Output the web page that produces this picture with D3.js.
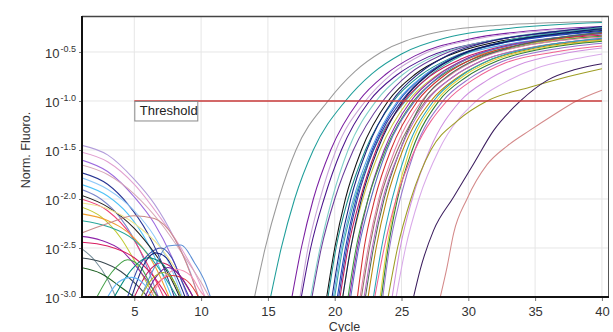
<!DOCTYPE html>
<html lang="en">
<head>
<meta charset="UTF-8">
<title>Amplification plot</title>
<style>
    body { margin: 0; background: #fff; }
    text { font-family: "Liberation Sans", Arial, sans-serif; fill: #333; }
    .grid line { stroke: #e6e6e6; stroke-width: 1; }
    .curve { fill: none; stroke-width: 1.05; }
</style>
</head>
<body>
<div id="chart"></div>
<script src="https://d3js.org/d3.v7.min.js"></script>
<script>
// axis ticks
const xTicks = [5, 10, 15, 20, 25, 30, 35, 40];
const yTickExps = [-3.0, -2.5, -2.0, -1.5, -1.0, -0.5];
const yTopExp = -0.133;
const thresholdExp = -1.0;
const thresholdCycles = [5, 40];

// amplification curves: [cycle, log10 norm. fluoro]
const ampCurves = [
    [[14.0,-3],[14.8,-2.5],[15.8,-2],[17.1,-1.5],[19.5,-1],[21.5,-0.7],[23.5,-0.5],[27,-0.32],[32,-0.23],[40,-0.19]],
    [[15.2,-3],[16.0,-2.5],[17.0,-2],[18.4,-1.5],[20.8,-1],[22.8,-0.72],[25,-0.52],[28.5,-0.35],[33,-0.26],[40,-0.2]],
    [[16.8,-3],[17.5,-2.5],[18.4,-2],[19.7,-1.5],[21.8,-1],[23.8,-0.73],[26,-0.54],[30,-0.37],[35,-0.28],[40,-0.24]],
    [[17.4,-3],[18.0,-2.5],[18.9,-2],[20.1,-1.5],[22.3,-1],[24.3,-0.72],[26.5,-0.53],[30.5,-0.37],[35,-0.29],[40,-0.25]],
    [[17.5,-3],[18.2,-2.5],[19.2,-2],[20.5,-1.5],[22.6,-1],[24.6,-0.74],[27,-0.55],[31,-0.4],[35,-0.32],[40,-0.27]],
    [[18.2,-3],[18.9,-2.5],[19.8,-2],[21.0,-1.5],[23.1,-1],[25.1,-0.73],[27.5,-0.54],[31,-0.4],[35,-0.31],[40,-0.25]],
    [[18.3,-3],[19.0,-2.5],[20.0,-2],[21.4,-1.5],[23.6,-1],[25.6,-0.72],[28,-0.53],[32,-0.38],[36,-0.3],[40,-0.25]],
    [[19.4,-3],[20.0,-2.5],[20.8,-2],[22.0,-1.5],[24.0,-1],[26,-0.73],[28.3,-0.55],[32,-0.4],[36,-0.33],[40,-0.28]],
    [[19.5,-3],[20.1,-2.5],[21.0,-2],[22.3,-1.5],[24.4,-1],[26.4,-0.74],[28.7,-0.56],[32.5,-0.41],[36,-0.33],[40,-0.27]],
    [[19.8,-3],[20.4,-2.5],[21.2,-2],[22.4,-1.5],[24.3,-1],[26.3,-0.72],[28.5,-0.53],[32,-0.38],[36,-0.3],[40,-0.24]],
    [[20.2,-3],[20.8,-2.5],[21.6,-2],[22.8,-1.5],[24.8,-1],[26.8,-0.73],[29,-0.55],[32.5,-0.41],[36,-0.34],[40,-0.29]],
    [[19.9,-3],[20.5,-2.5],[21.4,-2],[22.7,-1.5],[24.7,-1],[26.7,-0.74],[29,-0.56],[33,-0.42],[37,-0.35],[40,-0.32]],
    [[20.0,-3],[20.6,-2.5],[21.5,-2],[22.9,-1.5],[25.3,-1],[27.3,-0.72],[29.6,-0.53],[33,-0.38],[37,-0.3],[40,-0.25]],
    [[20.4,-3],[21.0,-2.5],[21.9,-2],[23.1,-1.5],[25.2,-1],[27.2,-0.74],[29.5,-0.57],[33,-0.43],[37,-0.36],[40,-0.33]],
    [[20.6,-3],[21.2,-2.5],[22.1,-2],[23.4,-1.5],[25.5,-1],[27.5,-0.75],[29.8,-0.58],[33.5,-0.44],[37,-0.37],[40,-0.34]],
    [[20.3,-3],[20.9,-2.5],[21.7,-2],[22.9,-1.5],[25.0,-1],[27,-0.72],[29.3,-0.53],[33,-0.39],[37,-0.31],[40,-0.27]],
    [[20.6,-3],[21.2,-2.5],[22.0,-2],[23.2,-1.5],[25.1,-1],[27.1,-0.72],[29.4,-0.53],[33,-0.39],[37,-0.31],[40,-0.26]],
    [[21.1,-3],[21.7,-2.5],[22.5,-2],[23.7,-1.5],[25.7,-1],[27.7,-0.74],[30,-0.56],[33.5,-0.42],[37,-0.35],[40,-0.31]],
    [[21.0,-3],[21.6,-2.5],[22.5,-2],[23.8,-1.5],[25.9,-1],[27.9,-0.75],[30.2,-0.58],[34,-0.44],[37.5,-0.37],[40,-0.34]],
    [[21.7,-3],[22.2,-2.5],[23.0,-2],[24.2,-1.5],[26.2,-1],[28.2,-0.74],[30.5,-0.56],[34,-0.42],[37.5,-0.35],[40,-0.31]],
    [[21.9,-3],[22.5,-2.5],[23.3,-2],[24.5,-1.5],[26.5,-1],[28.5,-0.75],[30.8,-0.57],[34.5,-0.43],[38,-0.37],[40,-0.35]],
    [[21.2,-3],[21.8,-2.5],[22.7,-2],[23.9,-1.5],[26.0,-1],[28,-0.73],[30.3,-0.55],[34,-0.41],[37.5,-0.34],[40,-0.3]],
    [[22.0,-3],[22.6,-2.5],[23.4,-2],[24.7,-1.5],[26.8,-1],[28.8,-0.76],[31,-0.59],[34.5,-0.46],[38,-0.39],[40,-0.37]],
    [[22.3,-3],[22.9,-2.5],[23.7,-2],[24.9,-1.5],[26.6,-1],[28.6,-0.73],[31,-0.55],[34.5,-0.41],[40,-0.3]],
    [[22.2,-3],[22.8,-2.5],[23.6,-2],[24.9,-1.5],[26.9,-1],[28.9,-0.75],[31.2,-0.58],[35,-0.45],[40,-0.36]],
    [[22.5,-3],[23.1,-2.5],[23.9,-2],[25.1,-1.5],[27.2,-1],[29.2,-0.76],[31.5,-0.59],[35,-0.46],[40,-0.38]],
    [[22.9,-3],[23.5,-2.5],[24.3,-2],[25.4,-1.5],[27.4,-1],[29.4,-0.75],[31.8,-0.57],[35.5,-0.44],[40,-0.36]],
    [[23.4,-3],[23.9,-2.5],[24.6,-2],[25.6,-1.5],[27.6,-1],[29.6,-0.75],[32,-0.58],[35.5,-0.46],[40,-0.38]],
    [[23.5,-3],[24.0,-2.5],[24.7,-2],[25.8,-1.5],[27.8,-1],[29.8,-0.76],[32.2,-0.59],[35.5,-0.47],[40,-0.39]],
    [[23.6,-3],[24.1,-2.5],[24.9,-2],[26.0,-1.5],[28.1,-1],[30.1,-0.77],[32.5,-0.6],[36,-0.48],[40,-0.41]],
    [[23.0,-3],[23.7,-2.5],[24.6,-2],[26.0,-1.5],[28.4,-1],[30.4,-0.78],[32.8,-0.61],[36.5,-0.5],[40,-0.44]],
    [[24.3,-3],[24.9,-2.5],[25.8,-2],[27.1,-1.5],[29.4,-1],[31.4,-0.79],[33.8,-0.63],[37,-0.52],[40,-0.46]],
    [[24.6,-3],[25.3,-2.5],[26.3,-2],[27.8,-1.5],[30.6,-1],[32.6,-0.82],[35,-0.67],[38,-0.57],[40,-0.52]],
    [[24.0,-3],[24.7,-2.5],[25.7,-2],[27.2,-1.5],[29.2,-1.2],[31.4,-1.0],[34.6,-0.86],[37.5,-0.75],[40,-0.67]],
    [[25.9,-3],[26.4,-2.72],[27.4,-2.32],[28.9,-1.98],[30.4,-1.64],[31.9,-1.3],[33.9,-1],[35.9,-0.79],[38,-0.68],[40,-0.62]],
    [[27.9,-3],[28.4,-2.7],[28.9,-2.35],[29.9,-2.0],[31.4,-1.65],[32.9,-1.46],[34.6,-1.3],[36.4,-1.14],[38.1,-1],[40,-0.89]]
];
const ampColors = [
    "#9a9a9a", "#1f9e9a", "#7b1fa2", "#c9a6d8", "#4a148c", "#7fcfc8", "#6a3d9a",
    "#111111", "#168f8a", "#1a237e", "#1f3fbf", "#5aa9e6", "#3aa6a0", "#c2185b",
    "#c6c43a", "#303f9f", "#0d1b5e", "#8e24aa", "#3c9a40", "#d32f2f", "#e57fa8",
    "#5c6bc0", "#8d6e63", "#4e6e58", "#ba68c8", "#b8860b", "#26a6b8", "#e3d43a",
    "#2e7d32", "#9575cd", "#f06292", "#cf8fe0", "#d9a9e9", "#9e9d24", "#3b1d5e",
    "#d48a8a"
];

// early-cycle baseline curves
const earlyCurves = [
    [[1,-1.45],[3,-1.55],[5,-1.8],[6.5,-2.05],[8,-2.4],[9.2,-2.75],[9.8,-3]],
    [[1,-1.52],[3,-1.62],[5,-1.85],[7,-2.2],[8.5,-2.5],[9.7,-2.8],[10.3,-3]],
    [[1,-1.6],[3,-1.72],[5,-1.98],[6.5,-2.25],[8,-2.65],[9.0,-3]],
    [[1,-1.65],[3,-1.75],[5,-1.95],[7,-2.25],[8.8,-2.6],[10,-2.85],[10.6,-3]],
    [[1,-1.73],[3,-1.85],[4.5,-2.05],[6,-2.35],[7.2,-2.7],[8,-3]],
    [[1,-1.78],[3,-1.9],[5,-2.12],[6.5,-2.38],[7.8,-2.72],[8.6,-3]],
    [[1,-1.85],[3,-1.97],[4.5,-2.15],[6,-2.45],[7.2,-2.8],[7.8,-3]],
    [[1,-1.9],[2.5,-2.0],[4,-2.2],[5.5,-2.55],[6.8,-3]],
    [[1,-1.96],[3,-2.08],[5,-2.3],[6.5,-2.55],[7.7,-2.8],[8.4,-3]],
    [[1,-2.0],[3,-2.12],[4.8,-2.38],[6.3,-2.75],[7.2,-3]],
    [[1,-2.04],[3,-2.1],[5,-2.25],[7,-2.5],[8.5,-2.8],[9.4,-3]],
    [[1,-2.08],[2.5,-2.18],[4,-2.4],[5.5,-2.75],[6.5,-3]],
    [[1,-2.15],[3,-2.22],[5,-2.4],[6.6,-2.7],[7.6,-3]],
    [[1,-2.22],[3,-2.28],[5,-2.42],[6.8,-2.7],[8.2,-3]],
    [[1,-2.35],[3,-2.25],[5,-2.17],[6.5,-2.2],[8,-2.4],[9.3,-2.8],[9.8,-3]],
    [[1,-2.38],[2.5,-2.42],[4,-2.52],[5.5,-2.75],[6.8,-3]],
    [[1,-2.44],[3,-2.48],[5,-2.6],[6.5,-2.8],[7.5,-3]],
    [[1,-2.5],[2,-2.62],[3,-2.82],[3.6,-3]],
    [[1,-2.6],[2.5,-2.64],[4,-2.74],[5.2,-2.88],[6,-3]],
    [[1,-2.7],[2.5,-2.76],[4,-2.9],[5,-3]],
    [[4.5,-3],[5.3,-2.7],[6.2,-2.55],[7,-2.5],[7.8,-2.6],[8.6,-2.85],[9.1,-3]],
    [[5.5,-3],[6.5,-2.7],[7.5,-2.48],[8.5,-2.47],[9.5,-2.65],[10.3,-2.85],[10.7,-3]],
    [[5,-3],[6,-2.75],[7,-2.65],[8,-2.72],[9,-2.9],[9.4,-3]],
    [[3.5,-3],[4.8,-2.72],[6,-2.6],[7,-2.65],[8,-2.85],[8.5,-3]],
    [[6,-3],[6.8,-2.85],[7.8,-2.78],[8.8,-2.82],[9.6,-2.95],[9.8,-3]],
    [[6.2,-3],[7.2,-2.8],[8.2,-2.72],[9.2,-2.78],[10,-2.95],[10.3,-3]],
    [[2.2,-3],[3.3,-2.75],[4.5,-2.62],[5.5,-2.7],[6.3,-2.9],[6.7,-3]],
    [[4.8,-3],[5.8,-2.65],[6.6,-2.55],[7.4,-2.6],[8.2,-2.8],[8.8,-3]],
    [[5.8,-3],[6.6,-2.8],[7.5,-2.7],[8.4,-2.78],[9.2,-2.95],[9.4,-3]],
    [[3,-3],[3.8,-2.85],[4.8,-2.8],[5.8,-2.88],[6.3,-3]],
    [[5.5,-3],[6.3,-2.82],[7.2,-2.75],[8,-2.85],[8.5,-3]]
];
const earlyColors = [
    "#b39ddb", "#e1a0d0", "#9c6ade", "#d7a8b8", "#283593", "#90caf9", "#4fc3f7",
    "#7986cb", "#222222", "#ec407a", "#f0e68c", "#c0ca33", "#f0a030", "#26a69a",
    "#c98a8a", "#8e24aa", "#d81b60", "#78909c", "#37474f", "#1b5e20",
    "#3949ab", "#5c8fd6", "#c2185b", "#00897b", "#e53935", "#f48fb1", "#43a047",
    "#1a237e", "#7b1fa2", "#64b5f6", "#afb42b"
];

const width = 613, height = 332;
const plotL = 82, plotR = 609, plotT = 16, plotB = 297;

const svg = d3.select('#chart').append('svg')
    .attr('width', width)
    .attr('height', height);

// x: cycle 5 sits at 134.3px, cycle 40 at 602px
const xScale = d3.scaleLinear().domain([1.085, 40.53]).range([plotL, plotR]);
const yScale = d3.scaleLog().domain([Math.pow(10, -3), Math.pow(10, yTopExp)]).range([plotB, plotT]);
const yOf = e => yScale(Math.pow(10, e));

// grid
const grid = svg.append('g').attr('class', 'grid');
grid.selectAll('.vx').data(xTicks).join('line')
    .attr('x1', d => xScale(d)).attr('x2', d => xScale(d))
    .attr('y1', plotT).attr('y2', plotB);
grid.selectAll('.hy').data(yTickExps).join('line')
    .attr('x1', plotL).attr('x2', plotR)
    .attr('y1', d => yOf(d)).attr('y2', d => yOf(d));

svg.append('clipPath').attr('id', 'plot')
    .append('rect').attr('x', plotL).attr('y', plotT)
    .attr('width', plotR - plotL).attr('height', plotB - plotT);

const line = d3.line()
    .x(d => xScale(d[0]))
    .y(d => yOf(d[1]))
    .curve(d3.curveMonotoneX);

const curves = svg.append('g').attr('clip-path', 'url(#plot)');

curves.selectAll('.early').data(earlyCurves).join('path')
    .attr('class', 'curve early')
    .attr('d', line)
    .attr('stroke', (d, i) => earlyColors[i % earlyColors.length]);

curves.selectAll('.amp').data(ampCurves).join('path')
    .attr('class', 'curve amp')
    .attr('d', line)
    .attr('stroke', (d, i) => ampColors[i % ampColors.length]);

// threshold
svg.append('line')
    .attr('x1', xScale(thresholdCycles[0])).attr('x2', xScale(thresholdCycles[1]))
    .attr('y1', yOf(thresholdExp)).attr('y2', yOf(thresholdExp))
    .attr('stroke', '#c83a3a').attr('stroke-width', 1.5);

const tx = xScale(thresholdCycles[0]);
svg.append('rect')
    .attr('x', tx + 0.5).attr('y', yOf(thresholdExp) + 0.5)
    .attr('width', 63).attr('height', 19.5)
    .attr('fill', '#fff').attr('stroke', '#8a8a8a').attr('stroke-width', 1);
svg.append('text')
    .attr('x', tx + 5.5).attr('y', yOf(thresholdExp) + 14.5)
    .style('font-size', '13px').style('fill', '#222')
    .text('Threshold');

// frame
svg.append('line').attr('x1', plotL).attr('x2', plotR).attr('y1', plotT + 0.5).attr('y2', plotT + 0.5)
    .attr('stroke', '#444').attr('stroke-width', 1.5);
svg.append('line').attr('x1', plotR - 0.5).attr('x2', plotR - 0.5).attr('y1', plotT).attr('y2', plotB)
    .attr('stroke', '#555').attr('stroke-width', 1);

// x axis
const xAxis = d3.axisBottom(xScale).tickValues(xTicks).tickSize(4).tickPadding(6);
const gx = svg.append('g').attr('transform', `translate(0,${plotB})`).call(xAxis);
gx.select('.domain').remove();
gx.selectAll('.tick line').attr('stroke', '#777');
gx.selectAll('.tick text').style('font-size', '13px').attr('fill', '#333');
svg.append('line').attr('x1', plotL - 1).attr('x2', plotR).attr('y1', plotB).attr('y2', plotB)
    .attr('stroke', '#111').attr('stroke-width', 2);

// y axis
const yAxis = d3.axisLeft(yScale).tickValues(yTickExps.map(e => Math.pow(10, e))).tickSize(3).tickFormat('');
const gy = svg.append('g').attr('transform', `translate(${plotL},0)`).call(yAxis);
gy.select('.domain').remove();
gy.selectAll('.tick line').attr('stroke', '#777');
svg.append('line').attr('x1', plotL).attr('x2', plotL).attr('y1', plotT).attr('y2', plotB + 1)
    .attr('stroke', '#111').attr('stroke-width', 2);

const ylab = svg.append('g').selectAll('text').data(yTickExps).join('text')
    .attr('x', 76).attr('y', d => yOf(d) + 6)
    .attr('text-anchor', 'end')
    .style('font-size', '13px');
ylab.append('tspan').text('10');
ylab.append('tspan').attr('dx', 1).attr('dy', -6).style('font-size', '9px')
    .text(d => d.toFixed(1));

// axis titles
svg.append('text')
    .attr('x', (plotL + plotR) / 2 - 1).attr('y', 330.5)
    .attr('text-anchor', 'middle').style('font-size', '12.5px')
    .text('Cycle');
svg.append('text')
    .attr('transform', 'translate(30,150) rotate(-90)')
    .attr('text-anchor', 'middle').style('font-size', '12.5px')
    .text('Norm. Fluoro.');
</script>
</body>
</html>
